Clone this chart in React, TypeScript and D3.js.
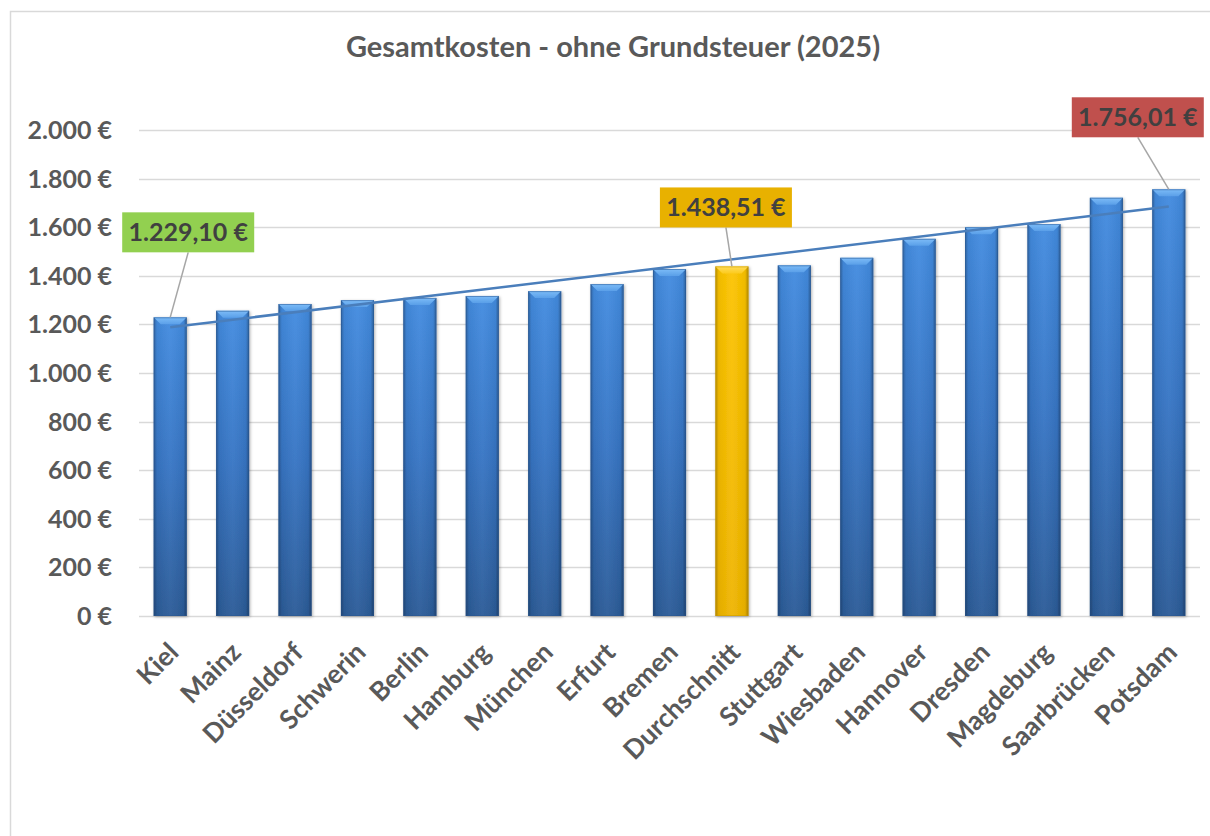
import React, { useRef, useEffect } from 'react';
import * as d3 from 'd3';

const cities = ['Kiel', 'Mainz', 'Düsseldorf', 'Schwerin', 'Berlin', 'Hamburg', 'München', 'Erfurt', 'Bremen',
  'Durchschnitt', 'Stuttgart', 'Wiesbaden', 'Hannover', 'Dresden', 'Magdeburg', 'Saarbrücken', 'Potsdam'];
const costs = [1229.10, 1256, 1284, 1300, 1309, 1317, 1337, 1366, 1428,
  1438.51, 1443, 1474, 1552, 1600, 1613, 1721, 1756.01];
const yTicks = [0, 200, 400, 600, 800, 1000, 1200, 1400, 1600, 1800, 2000];

// labelled bars: index, box colour, box offset from bar top centre
const callouts = [
  { i: 0, color: '#92d050', dx: 18, dy: -65 },
  { i: 9, color: '#e8b100', dx: -6, dy: -39 },
  { i: 16, color: '#c0504d', dx: -31, dy: -52 },
];

const title = 'Gesamtkosten - ohne Grundsteuer (2025)';
const FONT = 'Lato, "Open Sans", sans-serif';

const de = d3.formatLocale({ decimal: ',', thousands: '.', grouping: [3], currency: ['', ' €'] });
const fmtTick = (v: number) => de.format(',.0f')(v) + ' €';
const fmtLabel = (v: number) => de.format(',.2f')(v) + ' €';

const App = () => {
  const svgRef = useRef<SVGSVGElement>(null);
  const width = 1210, height = 836;

  useEffect(() => {
    if (!svgRef.current) return;
    const svg = d3.select(svgRef.current);
    svg.selectAll('*').remove();

    const m = { left: 139, right: 1200, top: 130, bottom: 616 };

    const x = d3.scaleBand().domain(cities).range([m.left, m.right]).paddingInner(0.47).paddingOuter(0.235);
    const y = d3.scaleLinear().domain([0, 2000]).range([m.bottom, m.top]);

    const defs = svg.append('defs');
    const grad = (id: string, stops: [number, string, number?][], vertical = true) => {
      const g = defs.append('linearGradient').attr('id', id)
        .attr('x1', 0).attr('y1', 0).attr('x2', vertical ? 0 : 1).attr('y2', vertical ? 1 : 0);
      stops.forEach(([o, c, a]) => g.append('stop').attr('offset', o).attr('stop-color', c).attr('stop-opacity', a ?? 1));
    };
    grad('blueBody', [[0, '#438ce0'], [0.5, '#3775c4'], [1, '#2c5c98']]);
    grad('yellowBody', [[0, '#fcc400'], [1, '#efb500']]);
    grad('sides', [[0, '#000', 0.28], [0.1, '#000', 0.05], [0.5, '#fff', 0.04], [0.9, '#000', 0.05], [1, '#000', 0.32]], false);
    grad('blueTop', [[0, '#7cbcf8'], [1, '#5a9fe8']]);
    grad('yellowTop', [[0, '#ffdc5a'], [1, '#fccb1e']]);

    const f = defs.append('filter').attr('id', 'shadow').attr('x', '-20%').attr('y', '-5%').attr('width', '140%').attr('height', '110%');
    f.append('feDropShadow').attr('dx', 1).attr('dy', 1).attr('stdDeviation', 1.5).attr('flood-color', '#000').attr('flood-opacity', 0.3);

    // chart border
    svg.append('rect').attr('x', 10.5).attr('y', 11.5).attr('width', 1230).attr('height', 860)
      .attr('fill', '#fff').attr('stroke', '#d9d9d9').attr('stroke-width', 1.5);

    svg.append('text').attr('x', 613).attr('y', 57).attr('text-anchor', 'middle')
      .attr('font-family', FONT).attr('font-weight', 700).attr('font-size', 29).attr('fill', '#595959')
      .text(title);

    // grid
    svg.append('g').selectAll('line').data(yTicks).join('line')
      .attr('x1', m.left).attr('x2', m.right)
      .attr('y1', d => Math.round(y(d)) + 0.5).attr('y2', d => Math.round(y(d)) + 0.5)
      .attr('stroke', '#d9d9d9').attr('stroke-width', 1.3);

    svg.append('g').selectAll('text').data(yTicks).join('text')
      .attr('x', 112).attr('y', d => y(d)).attr('dy', '0.36em').attr('text-anchor', 'end')
      .attr('font-family', FONT).attr('font-weight', 700).attr('font-size', 25).attr('fill', '#595959')
      .text(d => fmtTick(d));

    // bars
    const bw = x.bandwidth();
    const bars = svg.append('g').selectAll('g').data(cities).join('g').attr('filter', 'url(#shadow)');
    bars.each(function (c, i) {
      const g = d3.select(this);
      const yellow = c === 'Durchschnitt';
      const x0 = x(c) as number, y0 = y(costs[i]), h = m.bottom - y0;
      g.append('rect').attr('x', x0).attr('y', y0).attr('width', bw).attr('height', h)
        .attr('fill', yellow ? 'url(#yellowBody)' : 'url(#blueBody)');
      g.append('rect').attr('x', x0).attr('y', y0).attr('width', bw).attr('height', h)
        .attr('fill', 'url(#sides)');
      const b = 7;
      g.append('polygon')
        .attr('points', [[x0, y0], [x0 + bw, y0], [x0 + bw - b, y0 + b], [x0 + b, y0 + b]].map(p => p.join(',')).join(' '))
        .attr('fill', yellow ? 'url(#yellowTop)' : 'url(#blueTop)');
      g.append('rect').attr('x', x0 + 0.5).attr('y', y0 + 0.5).attr('width', bw - 1).attr('height', h - 1)
        .attr('fill', 'none').attr('stroke', yellow ? '#c99a00' : '#2a5590').attr('stroke-opacity', 0.5);
    });

    // linear trend line (least squares over the bars)
    const idx = costs.map((_, i) => i);
    const mx = d3.mean(idx) as number, my = d3.mean(costs) as number;
    const slope = d3.sum(idx, i => (i - mx) * (costs[i] - my)) / d3.sum(idx, i => (i - mx) ** 2);
    const cx = (i: number) => (x(cities[i]) as number) + bw / 2;
    const trend = (i: number) => my + slope * (i - mx);
    svg.append('line')
      .attr('x1', cx(0)).attr('y1', y(trend(0)))
      .attr('x2', cx(cities.length - 1)).attr('y2', y(trend(cities.length - 1)))
      .attr('stroke', '#4a7ebb').attr('stroke-width', 2.5);

    // x labels
    svg.append('g').selectAll('text').data(cities).join('text')
      .attr('transform', (d) => `translate(${(x(d) as number) + bw / 2 + 10},${654}) rotate(-45)`)
      .attr('text-anchor', 'end')
      .attr('font-family', FONT).attr('font-weight', 700).attr('font-size', 26.5).attr('fill', '#595959')
      .text(d => d);

    // callouts
    callouts.forEach(co => {
      const bx = cx(co.i), by = y(costs[co.i]);
      const lx = bx + co.dx, ly = by + co.dy;
      const bwBox = 132, bhBox = 40;
      svg.append('line').attr('x1', lx).attr('y1', ly).attr('x2', bx).attr('y2', by)
        .attr('stroke', '#a6a6a6').attr('stroke-width', 1.5);
      svg.append('rect').attr('x', lx - bwBox / 2).attr('y', ly - bhBox).attr('width', bwBox).attr('height', bhBox)
        .attr('fill', co.color);
      svg.append('text').attr('x', lx).attr('y', ly - bhBox / 2).attr('dy', '0.36em').attr('text-anchor', 'middle')
        .attr('font-family', FONT).attr('font-weight', 700).attr('font-size', 25).attr('fill', '#404040')
        .text(fmtLabel(costs[co.i]));
    });
  }, []);

  return (
    <svg ref={svgRef} width={width} height={height}
      style={{ position: 'absolute', left: 0, top: 0, display: 'block' }} />
  );
};

export default App;
